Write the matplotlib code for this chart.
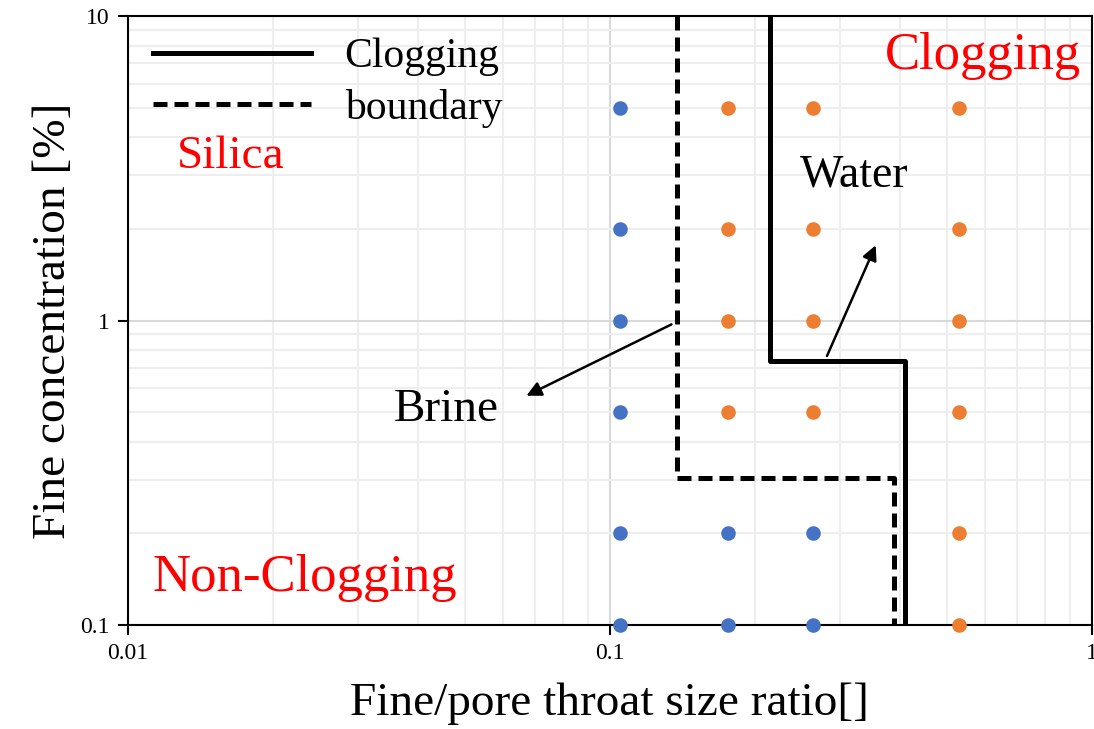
import matplotlib
matplotlib.use('Agg')
import matplotlib.pyplot as plt
from matplotlib.ticker import LogLocator, FixedFormatter, FixedLocator

plt.rcParams['font.family'] = ['Liberation Serif', 'DejaVu Serif']

# test points (fine/pore throat size ratio, concentration %)
ratio_levels = [0.105, 0.176, 0.264, 0.53]
conc_levels = [5, 2, 1, 0.5, 0.2, 0.1]
# 1 = clogging (orange), 0 = non-clogging (blue); rows follow conc_levels
clog_state = [
    [0, 1, 1, 1],
    [0, 1, 1, 1],
    [0, 1, 1, 1],
    [0, 1, 1, 1],
    [0, 0, 0, 1],
    [0, 0, 0, 1],
]

# clogging boundaries
water_x = [0.215, 0.215, 0.409, 0.409]
water_y = [10, 0.736, 0.736, 0.1]
brine_x = [0.138, 0.138, 0.389, 0.389]
brine_y = [10, 0.303, 0.303, 0.1]

blue = '#4472C4'
orange = '#ED7D31'

fig = plt.figure(figsize=(10.94, 7.29), dpi=100)
ax = fig.add_axes([0.117, 0.1427, 0.881, 0.8353])

ax.set_xscale('log')
ax.set_yscale('log')
ax.set_xlim(0.01, 1)
ax.set_ylim(0.1, 10)

# grid
ax.xaxis.set_minor_locator(LogLocator(base=10, subs=range(2, 10)))
ax.yaxis.set_minor_locator(LogLocator(base=10, subs=range(2, 10)))
ax.grid(True, which='major', color='#d9d9d9', lw=1.5)
ax.grid(True, which='minor', color='#eeeeee', lw=1.5)
ax.set_axisbelow(True)
ax.tick_params(which='minor', length=0)

ax.xaxis.set_major_locator(FixedLocator([0.01, 0.1, 1]))
ax.xaxis.set_major_formatter(FixedFormatter(['0.01', '0.1', '1']))
ax.yaxis.set_major_locator(FixedLocator([0.1, 1, 10]))
ax.yaxis.set_major_formatter(FixedFormatter(['0.1', '1', '10']))
ax.tick_params(which='major', labelsize=17, length=7, width=1.5, pad=6)

for sp in ax.spines.values():
    sp.set_linewidth(1.5)

# points
for i, c in enumerate(conc_levels):
    for j, r in enumerate(ratio_levels):
        col = orange if clog_state[i][j] else blue
        ax.scatter(r, c, s=110, color=col, zorder=3, clip_on=False, linewidths=0)

ax.plot(water_x, water_y, color='black', lw=3.6, label='Clogging', zorder=4)
ax.plot(brine_x, brine_y, color='black', lw=3.6, dashes=(2.8, 1.4), label='boundary', zorder=4)

ax.legend(loc='upper left', frameon=False, fontsize=30, handlelength=3.8,
          handletextpad=0.8, labelspacing=0.3, borderaxespad=0.2,
          bbox_to_anchor=(0.0, 1.005))

# arrows
ax.annotate('', xy=(0.0663, 0.561), xytext=(0.1358, 0.98),
            arrowprops=dict(arrowstyle='-|>', color='black', lw=1.8, mutation_scale=22))
ax.annotate('', xy=(0.358, 1.80), xytext=(0.2806, 0.75),
            arrowprops=dict(arrowstyle='-|>', color='black', lw=1.8, mutation_scale=22))

ax.text(0.322, 3.0, 'Water', fontsize=33, ha='center', va='center')
ax.text(0.0457, 0.508, 'Brine', fontsize=34, ha='center', va='center')
ax.text(0.0163, 3.44, 'Silica', fontsize=34, color='red', ha='center', va='center')
ax.text(0.0233, 0.1425, 'Non-Clogging', fontsize=38, color='red', ha='center', va='center')
ax.text(0.594, 7.4, 'Clogging', fontsize=38, color='red', ha='center', va='center')

ax.set_xlabel('Fine/pore throat size ratio[]', fontsize=34, labelpad=13)
ax.set_ylabel('Fine concentration [%]', fontsize=34, labelpad=4)

fig.savefig('out.png', dpi=100)
